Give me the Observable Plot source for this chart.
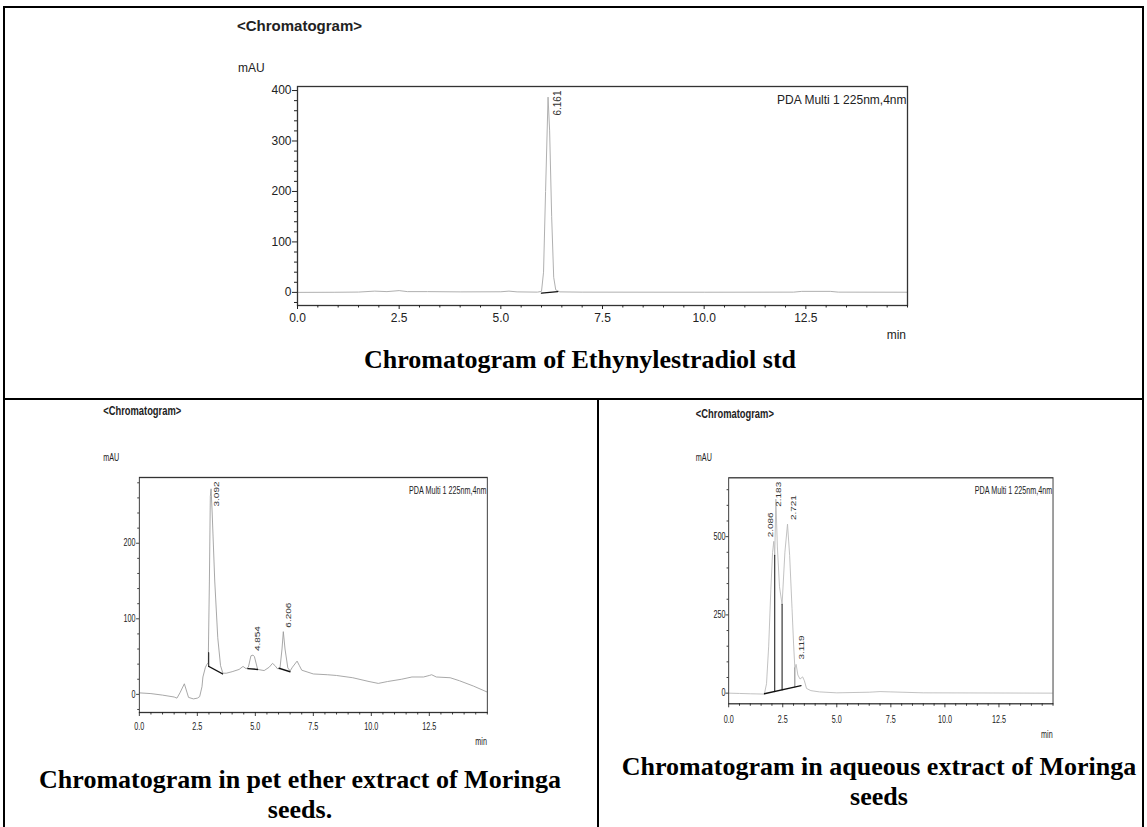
<!DOCTYPE html>
<html><head><meta charset="utf-8">
<script src="https://cdn.jsdelivr.net/npm/d3@7"></script>
<script src="https://cdn.jsdelivr.net/npm/@observablehq/plot@0.6"></script>
<style>
html,body{margin:0;padding:0;background:#fff;}
body{width:1147px;height:827px;position:relative;overflow:hidden;font-family:"Liberation Sans",Arial,sans-serif;color:#222;}
.abs{position:absolute;white-space:nowrap;line-height:1;}
.rule{position:absolute;background:#000;}
.cap{position:absolute;width:640px;font-family:"Liberation Serif","Times New Roman",serif;font-weight:bold;font-size:26px;line-height:30px;text-align:center;white-space:nowrap;color:#000;}
.wrap{position:absolute;top:0;height:827px;transform:scaleX(0.72);transform-origin:0 0;}
.wrap svg, #stdpanel svg{position:absolute;overflow:visible;}
</style></head><body>

<!-- table rules -->
<div class="rule" style="left:3px;top:6px;width:1141px;height:2px"></div>
<div class="rule" style="left:3px;top:6px;width:2px;height:821px"></div>
<div class="rule" style="left:1142px;top:6px;width:2px;height:821px"></div>
<div class="rule" style="left:3px;top:398px;width:1141px;height:2px"></div>
<div class="rule" style="left:597px;top:398px;width:2px;height:429px"></div>

<!-- top panel -->
<div id="stdpanel">
  <div class="abs" style="left:237px;top:25px;transform:translateY(-50%);font-weight:bold;font-size:15px">&lt;Chromatogram&gt;</div>
  <div class="abs" style="left:238px;top:68px;transform:translateY(-50%);font-size:12px">mAU</div>
  <div class="abs" style="left:906px;top:335px;transform:translate(-100%,-50%);font-size:12px">min</div>
</div>
<div class="cap" style="left:260px;top:347px;line-height:25px">Chromatogram of Ethynylestradiol std</div>

<!-- bottom-left panel -->
<div class="wrap" id="petpanel" style="left:60px;width:1510px">
  <div class="abs" style="left:60px;top:410px;transform:translateY(-50%);font-weight:bold;font-size:13px">&lt;Chromatogram&gt;</div>
  <div class="abs" style="left:60px;top:458px;transform:translateY(-50%);font-size:10px">mAU</div>
  <div class="abs" style="left:593px;top:742px;transform:translate(-100%,-50%);font-size:10px">min</div>
</div>
<div class="cap" style="left:-20px;top:765px">Chromatogram in pet ether extract of Moringa<br>seeds.</div>

<!-- bottom-right panel -->
<div class="wrap" id="aqpanel" style="left:680px;width:650px">
  <div class="abs" style="left:22px;top:413px;transform:translateY(-50%);font-weight:bold;font-size:13px">&lt;Chromatogram&gt;</div>
  <div class="abs" style="left:22px;top:458px;transform:translateY(-50%);font-size:10px">mAU</div>
  <div class="abs" style="left:517.6px;top:735px;transform:translate(-100%,-50%);font-size:10px">min</div>
</div>
<div class="cap" style="left:559px;top:752px">Chromatogram in aqueous extract of Moringa<br>seeds</div>

<script>
// ---------- data ----------
const detector = "PDA Multi 1 225nm,4nm";

const xMajor = [0, 2.5, 5, 7.5, 10, 12.5];
const xMinor = [0.5, 1, 1.5, 2, 3, 3.5, 4, 4.5, 5.5, 6, 6.5, 7, 8, 8.5, 9, 9.5, 10.5, 11, 11.5, 12, 13, 13.5, 14, 14.5, 15];

const stdYMajor = [0, 100, 200, 300, 400];
const stdYMinor = [-20, 20, 40, 60, 80, 120, 140, 160, 180, 220, 240, 260, 280, 320, 340, 360, 380];
const petYMajor = [0, 100, 200];
const petYMinor = [-20, 20, 40, 60, 80, 120, 140, 160, 180, 220, 240, 260, 280];
const aqYMajor = [0, 250, 500];
const aqYMinor = [50, 100, 150, 200, 300, 350, 400, 450, 550, 600, 650];

// [time (min), signal (mAU)]
const stdTrace = [[0,0],[0.9,0.2],[1.5,0.6],[1.9,2.5],[2.2,1.5],[2.5,3.5],[2.7,1.5],[3.2,1.5],[4,1],[5,1.2],[5.2,2.5],[5.4,1],[5.9,0.5],[6.0,2],[6.05,40],[6.1,200],[6.161,387],[6.2,320],[6.25,150],[6.3,30],[6.35,5],[6.45,1],[7,0.5],[10,0.3],[12.2,0.5],[12.4,2],[13.1,2],[13.3,0.5],[15,0.3]];
const stdPeaks = [[6.161, 387]];
const stdBaselines = [[[6.0,-1.5],[6.4,1.5]]];

const petTrace = [[0,2],[0.5,1],[1.0,-1],[1.5,-3.5],[1.62,-5],[1.75,2],[1.94,14],[2.05,3],[2.12,-4],[2.33,-6],[2.5,-5],[2.6,-3],[2.7,10],[2.74,23],[2.85,36],[2.92,40],[2.97,42],[3.02,150],[3.06,262],[3.092,272],[3.14,240],[3.25,150],[3.38,75],[3.5,38],[3.6,28],[3.75,28],[4.0,30],[4.3,33],[4.47,37],[4.6,34],[4.7,36],[4.81,51],[4.9,52],[4.96,50],[5.1,33],[5.38,31.5],[5.6,36],[5.74,41],[5.85,38],[5.95,34],[6.06,34],[6.15,60],[6.206,83],[6.28,60],[6.4,35],[6.5,31],[6.6,36],[6.8,44],[6.9,38],[7.0,32],[7.5,27],[8.1,26],[8.5,25],[9.2,22],[9.9,17],[10.3,14.5],[10.7,17],[11.3,20],[11.75,23],[12.25,23],[12.5,25],[12.6,26],[12.8,23],[13.4,22],[13.8,18],[14.4,11],[15,3]];
const petPeaks = [[3.092, 272], [4.854, 52], [6.206, 83]];
const petBaselines = [[[2.99,55],[2.99,37]], [[2.99,37],[3.59,27]], [[4.67,34],[5.1,33]], [[6.02,34.5],[6.5,30]]];

const aqTrace = [[0,0],[0.5,-1],[1.0,-2],[1.65,-3],[1.75,30],[1.85,150],[1.95,330],[2.03,450],[2.086,485],[2.13,440],[2.183,620],[2.25,470],[2.35,340],[2.47,283],[2.6,450],[2.721,540],[2.82,440],[2.93,270],[3.0,160],[3.06,80],[3.119,92],[3.2,58],[3.3,45],[3.42,52],[3.5,40],[3.6,15],[3.8,8],[4.2,4],[5,1],[6.5,3],[7,5],[7.5,4],[9,1],[15,0]];
const aqPeaks = [[2.086, 485], [2.183, 620], [2.721, 540], [3.119, 92]];
const aqBaselines = [[[1.65,-2],[3.35,24]], [[2.13,5.3],[2.13,440]], [[2.47,10.5],[2.47,283]]];
const aqDropGray = [[[3.06,19.5],[3.06,80]]];

// ---------- drawing ----------
function makeChart(o) {
  const k = (o.height - o.mt - o.mb) / (o.yDomain[1] - o.yDomain[0]);
  const labelLen = 25;
  const labels = o.peaks.map((p, i) => {
    const prev = o.peaks[i - 1], next = o.peaks[i + 1];
    let dx = o.labelDx;
    if (next && next[0] - p[0] < 0.2) dx = -4;
    else if (prev && p[0] - prev[0] < 0.2) dx = 4;
    return {t: p[0], y: Math.min(p[1] + (4 + labelLen) / k, o.yDomain[1] - 4 / k), text: p[0].toFixed(3), dx};
  });
  const dxs = [...new Set(labels.map(l => l.dx))];
  return Plot.plot({
    width: o.width, height: o.height,
    marginLeft: o.ml, marginRight: o.mr, marginTop: o.mt, marginBottom: o.mb,
    x: {domain: [0, 15]},
    y: {domain: o.yDomain},
    style: {fontFamily: "Liberation Sans, Arial, sans-serif", fontSize: o.fs + "px", color: "#222", background: "transparent", overflow: "visible"},
    marks: [
      Plot.line(o.trace, {x: d => d[0], y: d => d[1], stroke: o.traceColor, strokeWidth: 1, clip: true}),
      ...(o.gray || []).map(s => Plot.line(s, {x: d => d[0], y: d => d[1], stroke: "#777", strokeWidth: 1.3})),
      ...o.segments.map(s => Plot.line(s, {x: d => d[0], y: d => d[1], stroke: "#111", strokeWidth: 1.4})),
      ...dxs.map(dx => Plot.text(labels.filter(l => l.dx === dx), {x: "t", y: "y", text: "text", rotate: -90, textAnchor: "end", fontSize: 10, dx, fill: "#333"})),
      Plot.text([detector], {frameAnchor: "top-right", text: d => d, dx: -1, dy: 9, textAnchor: "end", fontSize: o.fs, fill: "#222"}),
      Plot.frame({stroke: "#333", strokeWidth: 1.3}),
      Plot.axisX(xMajor, {tickSize: 4, tickPadding: o.xPad, tickFormat: d => d.toFixed(1), fontSize: o.fs, label: null}),
      Plot.axisX(xMinor, {tickSize: 2.5, tickFormat: () => "", label: null}),
      Plot.axisY(o.yMajor, {tickSize: o.yTick, tickPadding: o.yPad, fontSize: o.fs, label: null}),
      Plot.axisY(o.yMinor, {tickSize: o.yTick * 0.6, tickFormat: () => "", label: null})
    ]
  });
}

const stdChart = makeChart({width: 700, height: 280, ml: 57, mr: 33, mt: 26, mb: 35, yDomain: [-26, 408],
  trace: stdTrace, peaks: stdPeaks, segments: stdBaselines, yMajor: stdYMajor, yMinor: stdYMinor,
  traceColor: "#b0b0b0", fs: 12, xPad: 4, yTick: 5, yPad: 1, labelDx: 10});
stdChart.style.left = "240px"; stdChart.style.top = "60px";
document.getElementById("stdpanel").appendChild(stdChart);

const petChart = makeChart({width: 558, height: 290, ml: 54.7, mr: 20, mt: 17, mb: 38, yDomain: [-24, 287],
  trace: petTrace, peaks: petPeaks, segments: petBaselines, yMajor: petYMajor, yMinor: petYMinor,
  traceColor: "#9a9a9a", fs: 10, xPad: 6, yTick: 4, yPad: 1.5, labelDx: 8});
petChart.style.left = "55px"; petChart.style.top = "460px";
document.getElementById("petpanel").appendChild(petChart);

const aqChart = makeChart({width: 517.6, height: 280, ml: 47.1, mr: 20, mt: 17.3, mb: 36.7, yDomain: [-34, 688],
  trace: aqTrace, peaks: aqPeaks, segments: aqBaselines, gray: aqDropGray, yMajor: aqYMajor, yMinor: aqYMinor,
  traceColor: "#b8b8b8", fs: 10, xPad: 8, yTick: 4, yPad: 0.5, labelDx: 8});
aqChart.style.left = "20px"; aqChart.style.top = "460px";
document.getElementById("aqpanel").appendChild(aqChart);
</script>
</body></html>
